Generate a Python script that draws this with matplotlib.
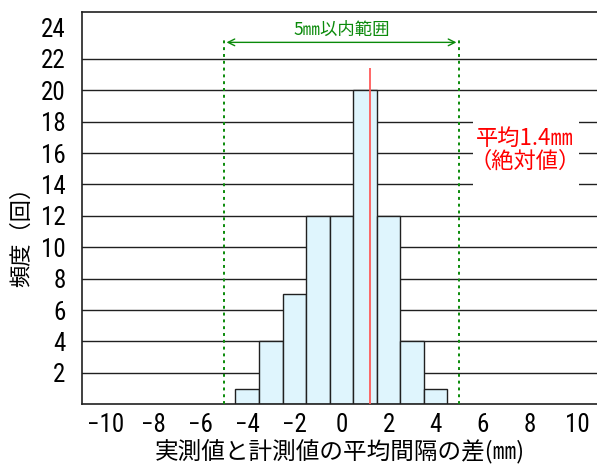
import matplotlib
matplotlib.use("Agg")
import matplotlib.pyplot as plt
from matplotlib import font_manager
from matplotlib.patches import Rectangle

bin_centers = [-4, -3, -2, -1, 0, 1, 2, 3, 4]
counts = [1, 4, 7, 12, 12, 20, 12, 4, 1]
mean_line_x = 1.2
range_limits = [-5, 5]
x_ticks = [-10, -8, -6, -4, -2, 0, 2, 4, 6, 8, 10]
y_ticks = [2, 4, 6, 8, 10, 12, 14, 16, 18, 20, 22, 24]
grid_levels = [2, 4, 6, 8, 10, 12, 14, 16, 18, 20, 22]

avail = {f.name for f in font_manager.fontManager.ttflist}
narrow = [f for f in ["Liberation Sans Narrow", "Roboto Condensed"] if f in avail]
jp = "Noto Sans CJK JP"
num_font = narrow + [jp, "DejaVu Sans"]
plt.rcParams['font.family'] = [jp, "DejaVu Sans"]

fig = plt.figure(figsize=(5.97, 4.70), dpi=100)
ax = fig.add_axes([0.138, 0.14, 0.868, 0.835])
ax.set_xlim(-11, 11)
ax.set_ylim(0, 25)

for g in grid_levels:
    ax.axhline(g, color="#202020", lw=1.0, zorder=1)

ax.bar(bin_centers, counts, width=1.0, color="#dff5fd", edgecolor="#202020",
       linewidth=1.0, zorder=2)

ax.vlines(mean_line_x, 0, 21.4, color="#ff5a5a", lw=1.3, zorder=3)
for xv in range_limits:
    ax.vlines(xv, 0, 23.2, color="#0a8a0a", lw=1.4, linestyles=(0, (1.5, 2.0)), zorder=3)

ax.annotate("", xy=(range_limits[0], 23.05), xytext=(range_limits[1], 23.05),
            arrowprops=dict(arrowstyle="<->", color="#0a8a0a", lw=1.0,
                            mutation_scale=12), zorder=4)
ax.text(0, 23.3, "5㎜以内範囲", color="#0a8a0a", fontsize=12.5, ha="center",
        va="bottom", family=[jp, "DejaVu Sans"], zorder=4)

ax.add_patch(Rectangle((5.6, 13.6), 4.5, 4.9, facecolor="white", edgecolor="none", zorder=4))
ax.text(7.8, 16.2, "平均1.4㎜\n（絶対値）", color="#ff0000", fontsize=16,
        ha="center", va="center", linespacing=1.0, family=[jp, "DejaVu Sans"],
        zorder=5)

ax.set_xticks(x_ticks)
ax.set_xticklabels([f"{v}".replace("-", "\u2212") for v in x_ticks], family=num_font, fontsize=18)
ax.set_yticks(y_ticks)
ax.set_yticklabels([str(v) for v in y_ticks], family=num_font, fontsize=18)
ax.tick_params(axis="both", length=0, pad=6)
ax.tick_params(axis="y", pad=12)

for s in ["right"]:
    ax.spines[s].set_visible(False)
for s in ["left", "top", "bottom"]:
    ax.spines[s].set_color("#202020")
    ax.spines[s].set_linewidth(1.2)

fig.text(0.57, 0.012, "実測値と計測値の平均間隔の差(㎜)", fontsize=17, ha="center",
         va="bottom", family=[jp, "DejaVu Sans"])
fig.text(0.037, 0.508, "頻度（回）", fontsize=16, rotation=90, ha="center",
         va="center", family=[jp, "DejaVu Sans"])

fig.savefig("out.png", dpi=100)
